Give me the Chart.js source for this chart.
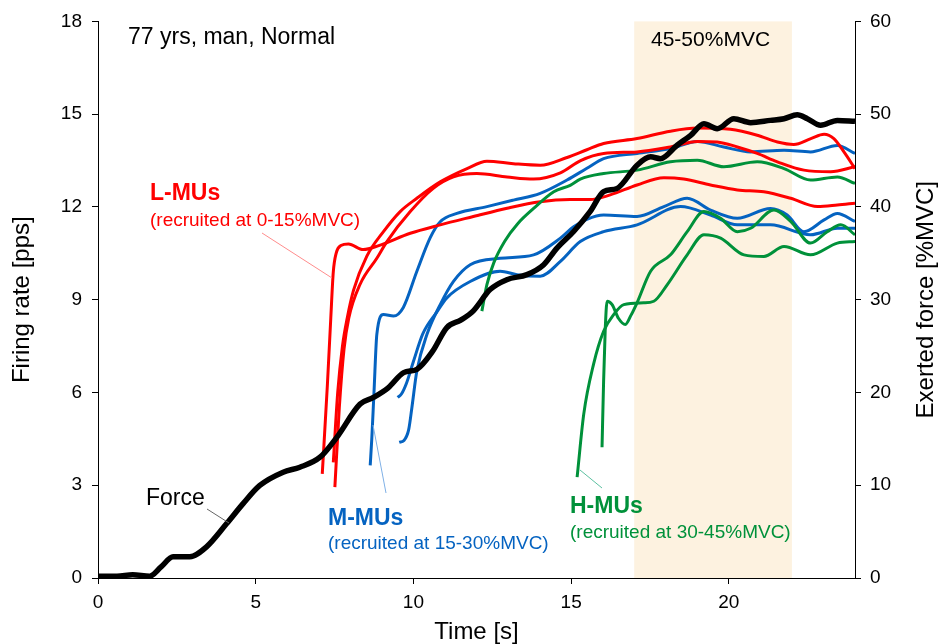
<!DOCTYPE html>
<html lang="en">
<head>
<meta charset="UTF-8">
<title>Firing rate vs force</title>
<style>
  html, body { margin: 0; padding: 0; background: #fff; }
  #wrap { width: 938px; height: 644px; }
</style>
</head>
<body>
<div id="wrap"><canvas id="chart" width="938" height="644"></canvas></div>
<script src="https://cdn.jsdelivr.net/npm/chart.js"></script>
<script>
// time [s], value pairs
const forceData = [[0,0.2],[0.6,0.2],[1.1,0.35],[1.64,0.2],[2.0,1.2],[2.38,2.29],[2.91,2.29],[3.44,3.36],[4.08,5.87],[4.6,8.02],[5.13,9.98],[5.87,11.41],[6.4,11.94],[7.04,13.02],[7.57,15.16],[8.31,18.75],[8.73,19.46],[9.2,20.5],[9.69,22.14],[10.11,22.5],[10.6,24.4],[11.06,27.0],[11.5,27.8],[11.9,28.8],[12.43,31.09],[12.96,32.16],[13.6,32.7],[14.13,33.77],[14.55,35.56],[15.08,37.35],[15.6,39.49],[16.03,41.64],[16.46,42.0],[17.09,44.5],[17.52,45.4],[17.83,45.2],[18.36,46.65],[18.79,47.72],[19.21,48.97],[19.63,48.43],[20.16,49.51],[20.69,49.08],[21.32,49.33],[21.75,49.51],[22.17,49.94],[22.49,49.51],[22.91,48.8],[23.44,49.33],[24.0,49.23]];

const lmu1 = [[7.11,3.37],[7.27,6.2],[7.38,8.4],[7.46,9.9],[7.55,10.5],[7.7,10.75],[7.94,10.8],[8.41,10.62],[8.9,10.75],[9.9,11.15],[10.85,11.42],[11.9,11.69],[12.97,11.96],[14.02,12.17],[14.97,12.24],[15.6,12.24],[16.24,12.39],[17.09,12.71],[17.94,12.94],[18.57,12.9],[19.42,12.71],[20.27,12.55],[21.11,12.49],[21.96,12.28],[22.81,12.01],[23.44,12.06],[24.0,12.12]];
const lmu2 = [[7.46,3.74],[7.6,6.0],[7.75,7.5],[7.9,8.4],[8.1,9.3],[8.52,10.4],[9.05,11.2],[9.58,11.85],[10.11,12.28],[10.85,12.81],[11.7,13.24],[12.33,13.48],[13.17,13.4],[14.02,13.35],[14.87,13.6],[15.5,13.85],[16.03,14.05],[17.09,14.21],[18.15,14.45],[19.0,14.55],[20.05,14.51],[20.9,14.32],[21.54,14.1],[22.06,14.02],[22.6,14.21],[23.02,14.35],[23.33,14.21],[23.65,13.78],[24.0,13.24]];
const lmu3 = [[7.51,2.94],[7.65,5.5],[7.8,7.4],[7.95,8.4],[8.31,9.5],[8.84,10.34],[9.16,10.88],[9.9,11.85],[10.63,12.6],[11.27,12.97],[12.01,13.08],[12.97,12.97],[13.81,12.9],[14.66,13.1],[15.3,13.5],[16.03,13.73],[17.09,13.78],[18.15,13.94],[19.0,14.12],[19.63,14.1],[20.27,13.94],[20.9,13.73],[21.54,13.46],[22.38,13.19],[23.23,13.14],[24.0,13.3]];

const mmu1 = [[8.63,3.64],[8.68,4.5],[8.75,6.0],[8.84,7.88],[9.05,8.52],[9.37,8.47],[9.68,8.75],[10.11,9.92],[10.53,11.0],[10.85,11.52],[11.38,11.79],[12.33,12.01],[13.17,12.22],[14.02,12.44],[14.87,12.87],[15.5,13.25],[16.03,13.56],[17.09,13.73],[18.15,13.89],[19.0,14.12],[19.84,13.94],[20.69,13.78],[21.75,13.83],[22.59,13.78],[23.44,13.99],[24.0,13.73]];
const mmu2 = [[9.5,5.84],[9.62,5.95],[9.78,6.3],[10.0,7.0],[10.3,7.9],[10.74,8.6],[11.06,9.06],[11.8,9.59],[12.75,9.92],[13.28,9.81],[14.02,9.76],[14.66,10.24],[15.29,10.88],[16.03,11.2],[17.09,11.42],[18.47,12.01],[19.42,11.74],[20.27,11.42],[21.32,11.42],[22.59,11.1],[23.44,11.31],[24.0,11.31]];
const mmu3 = [[9.55,4.39],[9.7,4.45],[9.85,4.8],[9.95,5.5],[10.11,6.7],[10.43,7.88],[10.85,8.84],[11.27,9.59],[11.8,10.13],[12.75,10.34],[13.81,10.45],[14.66,10.99],[15.08,11.36],[15.5,11.6],[16.03,11.74],[17.09,11.69],[17.94,12.01],[18.68,12.28],[19.42,11.9],[20.27,11.63],[21.32,11.95],[21.85,11.74],[22.38,11.2],[23.02,11.58],[23.44,11.79],[24.0,11.53]];

const hmu1 = [[12.17,8.63],[12.33,9.49],[12.55,10.2],[12.9,10.9],[13.3,11.45],[13.81,11.95],[14.45,12.49],[14.97,12.7],[15.29,12.9],[16.03,13.08],[17.09,13.19],[18.15,13.46],[19.0,13.51],[19.84,13.3],[20.9,13.46],[21.75,13.24],[22.59,12.87],[23.44,12.97],[24.0,12.76]];
const hmu2 = [[15.19,3.26],[15.4,5.3],[15.71,6.91],[16.03,7.98],[16.35,8.52],[16.67,8.84],[17.3,8.9],[17.62,8.95],[18.05,9.49],[18.68,10.45],[19.21,11.1],[19.74,10.99],[20.48,10.45],[21.11,10.4],[21.75,10.72],[22.59,10.45],[23.44,10.83],[24.0,10.88]];
const hmu3 = [[15.98,4.23],[16.03,6.37],[16.08,8.0],[16.14,8.95],[16.3,8.84],[16.5,8.4],[16.72,8.2],[16.9,8.5],[17.09,8.9],[17.52,9.92],[18.15,10.45],[18.68,11.2],[19.21,11.85],[19.74,11.63],[20.27,11.2],[20.69,11.31],[21.43,11.9],[21.96,11.53],[22.59,10.83],[23.12,11.2],[23.55,11.42],[24.0,11.1]];

const shadeRange = [17, 22];
const xTicks = [0, 5, 10, 15, 20];

const RED = '#ff0000', BLUE = '#0563c1', GREEN = '#00913a';
const FONT = "'Liberation Sans', Arial, sans-serif";

const toPts = arr => arr.map(p => ({ x: p[0], y: p[1] }));

function line(data, color, width, axis) {
    return {
        data: toPts(data),
        borderColor: color,
        borderWidth: width,
        pointRadius: 0,
        cubicInterpolationMode: 'monotone',
        yAxisID: axis || 'y',
        fill: false
    };
}

// peach band for the 45-50%MVC plateau
const shadePlugin = {
    id: 'shade',
    beforeDatasetsDraw(chart) {
        const { ctx, chartArea, scales } = chart;
        const x0 = scales.x.getPixelForValue(shadeRange[0]);
        const x1 = scales.x.getPixelForValue(shadeRange[1]);
        ctx.save();
        ctx.fillStyle = '#fdf2e0';
        ctx.fillRect(x0, chartArea.top, x1 - x0, chartArea.bottom - chartArea.top);
        ctx.restore();
    }
};

// text labels, leader lines and the right axis title (reads bottom to top)
const labelPlugin = {
    id: 'labels',
    afterDraw(chart) {
        const ctx = chart.ctx;
        const area = chart.chartArea;
        ctx.save();
        ctx.textBaseline = 'middle';
        ctx.textAlign = 'left';

        const txt = (s, x, y, color, size, bold) => {
            ctx.fillStyle = color;
            ctx.font = (bold ? 'bold ' : '') + size + 'px ' + FONT;
            ctx.fillText(s, x, y);
        };
        const lead = (x0, y0, x1, y1, color) => {
            ctx.strokeStyle = color;
            ctx.lineWidth = 1;
            ctx.beginPath();
            ctx.moveTo(x0, y0);
            ctx.lineTo(x1, y1);
            ctx.stroke();
        };

        txt('77 yrs, man, Normal', 128, 38, '#000', 23);
        txt('45-50%MVC', 651, 40, '#000', 21);

        txt('L-MUs', 150, 194, RED, 23, true);
        txt('(recruited at 0-15%MVC)', 150, 221, RED, 19);
        lead(262, 233, 332, 278, '#ff8c8c');

        txt('Force', 146, 499, '#000', 23);
        lead(207, 509, 229, 523, '#666');

        txt('M-MUs', 328, 519, BLUE, 23, true);
        txt('(recruited at 15-30%MVC)', 328, 544, BLUE, 19);
        lead(373, 425, 386, 493, '#7fb0e6');

        txt('H-MUs', 570, 507, GREEN, 23, true);
        txt('(recruited at 30-45%MVC)', 570, 533, GREEN, 19);
        lead(580, 470, 602, 488, '#5cc0a0');

        ctx.translate(926, (area.top + area.bottom) / 2);
        ctx.rotate(-Math.PI / 2);
        ctx.textAlign = 'center';
        txt('Exerted force [%MVC]', 0, 0, '#000', 24);

        ctx.restore();
    }
};

const axisCommon = {
    grid: { drawOnChartArea: false, drawTicks: true, tickLength: 6, color: '#000' },
    border: { display: true, color: '#000', width: 1 },
    ticks: { color: '#000', font: { family: FONT, size: 19 } }
};

new Chart(document.getElementById('chart'), {
    type: 'line',
    data: {
        datasets: [
            line(forceData, '#000', 5.5, 'y1'),
            line(hmu1, GREEN, 3), line(hmu2, GREEN, 3), line(hmu3, GREEN, 3),
            line(lmu1, RED, 3), line(lmu2, RED, 3), line(lmu3, RED, 3),
            line(mmu1, BLUE, 3), line(mmu2, BLUE, 3), line(mmu3, BLUE, 3)
        ]
    },
    options: {
        responsive: false,
        animation: false,
        layout: { padding: { top: 19, left: 0, right: 0, bottom: 0 } },
        plugins: { legend: { display: false }, tooltip: { enabled: false } },
        scales: {
            x: {
                type: 'linear',
                min: 0,
                max: 24,
                ...axisCommon,
                ticks: { ...axisCommon.ticks, padding: 7 },
                afterBuildTicks: s => { s.ticks = xTicks.map(v => ({ value: v })); },
                afterFit: s => { s.height = 66; },
                title: { display: true, text: 'Time [s]', color: '#000', font: { family: FONT, size: 24, lineHeight: 1 }, padding: { top: 0, bottom: 0 } }
            },
            y: {
                type: 'linear',
                position: 'left',
                min: 0,
                max: 18,
                ...axisCommon,
                ticks: { ...axisCommon.ticks, stepSize: 3, padding: 10 },
                afterFit: s => { s.width = 98; },
                title: { display: true, text: 'Firing rate [pps]', color: '#000', font: { family: FONT, size: 24, lineHeight: 1 }, padding: { top: 10, bottom: 0 } }
            },
            y1: {
                type: 'linear',
                position: 'right',
                min: 0,
                max: 60,
                ...axisCommon,
                ticks: { ...axisCommon.ticks, stepSize: 10, padding: 9 },
                afterFit: s => { s.width = 83; },
                title: { display: false }
            }
        }
    },
    plugins: [shadePlugin, labelPlugin]
});
</script>
</body>
</html>
